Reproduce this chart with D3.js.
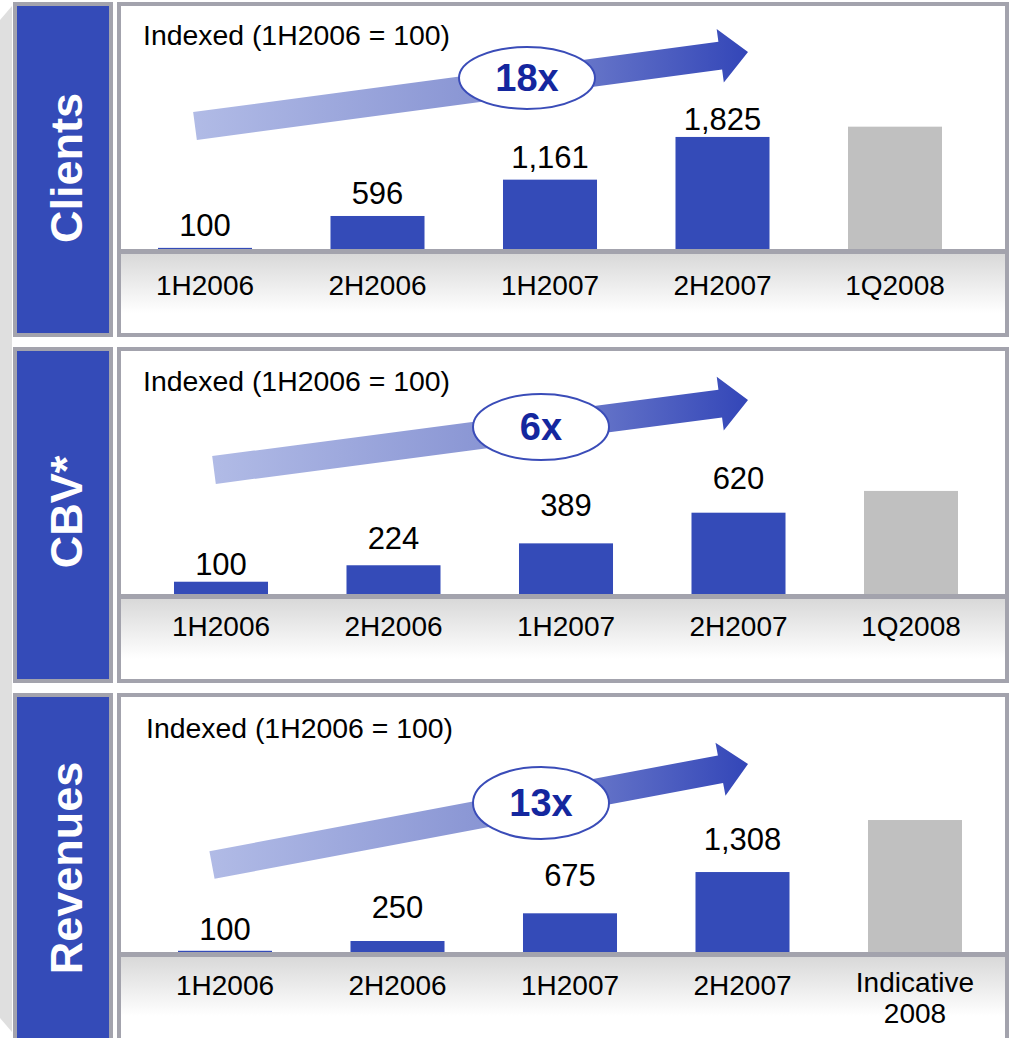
<!DOCTYPE html>
<meta charset="utf-8">
<html>
<body style="margin:0; background-color: white;">
<script src="https://d3js.org/d3.v7.min.js"></script>
<div id="chart"></div>
<script>

// ---- data ----
var panelNames = ["Clients", "CBV*", "Revenues"];
var subtitle = "Indexed (1H2006 = 100)";
var periods = ["1H2006", "2H2006", "1H2007", "2H2007", "1Q2008"];
var revenuePeriods = ["1H2006", "2H2006", "1H2007", "2H2007", "Indicative 2008"];
var clientsIndex = [100, 596, 1161, 1825, 1985];
var cbvIndex = [100, 224, 389, 620, 784];
var revenueIndex = [100, 250, 675, 1308, 2106];
var isForecast = [false, false, false, false, true];   // last bar grey, no label
var multiples = ["18x", "6x", "13x"];

var W = 1011, H = 1038;
var blue = "#344bb8", frame = "#a3a3ad", font = "Liberation Sans, Arial, sans-serif";

var svg = d3.select("#chart").append("svg")
    .attr("width", W).attr("height", H)
    .style("display", "block");

var defs = svg.append("defs");

var ag = defs.append("linearGradient").attr("id", "arrowGrad")
    .attr("x1", "0%").attr("x2", "100%").attr("y1", "0%").attr("y2", "0%");
ag.append("stop").attr("offset", "0%").attr("stop-color", "#b1bbe6");
ag.append("stop").attr("offset", "50%").attr("stop-color", "#8a96d4");
ag.append("stop").attr("offset", "100%").attr("stop-color", "#3346b8");

var bg = defs.append("linearGradient").attr("id", "bandGrad")
    .attr("x1", "0").attr("x2", "0").attr("y1", "0").attr("y2", "1");
bg.append("stop").attr("offset", "0%").attr("stop-color", "#d8d8d8");
bg.append("stop").attr("offset", "75%").attr("stop-color", "#ffffff");
bg.append("stop").attr("offset", "100%").attr("stop-color", "#ffffff");

// left shadow strip
svg.append("path")
    .attr("d", "M0,20 L12,6 L12,1032 L0,1018 Z")
    .attr("fill", "#dfdfdf");

// layout of the three panels
var panels = [
  { name: panelNames[0], cats: periods, vals: clientsIndex, mult: multiples[0],
    top: 4, bottom: 335, base: 250, shift: 0, dom: [67, 2000], domPx: 124.3,
    labelGap: [12, 12, 12, 7], catY: 295,
    arrow: {x0: 195, y0: 126, x1: 748, y1: 52}, ell: {cx: 527, cy: 78, ry: 31},
    subX: 143, subY: 45, textY: 168 },
  { name: panelNames[1], cats: periods, vals: cbvIndex, mult: multiples[1],
    top: 349, bottom: 681, base: 595, shift: 16, dom: [0, 800], domPx: 106.2,
    labelGap: [7, 16, 27, 24], catY: 636,
    arrow: {x0: 214, y0: 470, x1: 748, y1: 400}, ell: {cx: 541, cy: 427, ry: 33},
    subX: 143, subY: 391, textY: 512 },
  { name: panelNames[2], cats: revenuePeriods, vals: revenueIndex, mult: multiples[2],
    top: 695, bottom: 1060, base: 953, shift: 20, dom: [66, 2200], domPx: 139.1,
    labelGap: [11, 23, 27, 22], catY: 995,
    arrow: {x0: 212, y0: 865, x1: 748, y1: 764}, ell: {cx: 541, cy: 803, ry: 36},
    subX: 146, subY: 738, textY: 868 }
];

panels.forEach(function(p, pi) {
  var g = svg.append("g");

  // blue name box
  g.append("rect")
    .attr("x", 15).attr("y", p.top)
    .attr("width", 96).attr("height", p.bottom - p.top)
    .attr("fill", blue).attr("stroke", frame).attr("stroke-width", 4);
  g.append("text")
    .attr("transform", "translate(82," + p.textY + ") rotate(-90)")
    .attr("text-anchor", "middle")
    .attr("font-family", font).attr("font-weight", "bold")
    .attr("font-size", "45px").attr("fill", "white")
    .text(p.name);

  // chart frame
  g.append("rect")
    .attr("x", 119).attr("y", p.top)
    .attr("width", 888).attr("height", p.bottom - p.top)
    .attr("fill", "white").attr("stroke", frame).attr("stroke-width", 4);

  // grey band under the baseline
  g.append("rect")
    .attr("x", 121).attr("y", p.base + 3)
    .attr("width", 884).attr("height", Math.min(p.bottom, H) - p.base - 5)
    .attr("fill", "url(#bandGrad)");

  var x = d3.scaleBand().domain(p.cats)
    .range([118.75 + p.shift, 981.25 + p.shift])
    .paddingInner(0.455).paddingOuter(0.2275);
  var y = d3.scaleLinear().domain(p.dom).range([p.base, p.base - p.domPx]);

  var rows = p.cats.map(function(c, i) {
    return { cat: c, v: p.vals[i], fc: isForecast[i], gap: p.labelGap[i] };
  });

  g.selectAll(".bar").data(rows).enter().append("rect")
    .attr("x", function(d) { return x(d.cat); })
    .attr("y", function(d) { return y(d.v); })
    .attr("width", x.bandwidth())
    .attr("height", function(d) { return p.base - y(d.v); })
    .attr("fill", function(d) { return d.fc ? "#c0c0c0" : blue; });

  g.selectAll(".val").data(rows.filter(function(d) { return !d.fc; })).enter().append("text")
    .attr("x", function(d) { return x(d.cat) + x.bandwidth() / 2; })
    .attr("y", function(d) { return y(d.v) - d.gap; })
    .attr("text-anchor", "middle")
    .attr("font-family", font).attr("font-size", "31px").attr("fill", "black")
    .text(function(d) { return d3.format(",")(d.v); });

  // baseline
  g.append("line")
    .attr("x1", 121).attr("x2", 1005)
    .attr("y1", p.base + 1.5).attr("y2", p.base + 1.5)
    .attr("stroke", frame).attr("stroke-width", 5);

  // category labels (split on space for "Indicative 2008")
  g.selectAll(".cat").data(rows).enter().append("text")
    .attr("text-anchor", "middle")
    .attr("font-family", font).attr("font-size", "28px").attr("fill", "black")
    .each(function(d) {
      var parts = /^Indicative/.test(d.cat) ? d.cat.split(" ") : [d.cat];
      var cx = x(d.cat) + x.bandwidth() / 2;
      var t = d3.select(this);
      parts.forEach(function(s, k) {
        t.append("tspan").attr("x", cx)
          .attr("y", p.catY - (parts.length > 1 ? 3 : 0) + k * 31)
          .text(s);
      });
    });

  // subtitle
  g.append("text")
    .attr("x", p.subX).attr("y", p.subY)
    .attr("font-family", font).attr("font-size", "28.4px").attr("fill", "black")
    .text(subtitle);

  // growth arrow
  var a = p.arrow;
  var dx = a.x1 - a.x0, dy = a.y1 - a.y0, len = Math.sqrt(dx * dx + dy * dy);
  var ux = dx / len, uy = dy / len, nx = -uy, ny = ux;
  var half = 14, headHalf = 27, headLen = 28;
  function pt(along, across) {
    return [a.x0 + ux * along + nx * across, a.y0 + uy * along + ny * across];
  }
  var poly = [pt(0, -half), pt(len - headLen, -half), pt(len - headLen, -headHalf),
              pt(len, 0), pt(len - headLen, headHalf), pt(len - headLen, half), pt(0, half)];
  g.append("path")
    .attr("d", d3.line()(poly) + "Z")
    .attr("fill", "url(#arrowGrad)");

  g.append("ellipse")
    .attr("cx", p.ell.cx).attr("cy", p.ell.cy)
    .attr("rx", 68).attr("ry", p.ell.ry)
    .attr("fill", "white").attr("stroke", "#3a4cb8").attr("stroke-width", 2);
  g.append("text")
    .attr("x", p.ell.cx).attr("y", p.ell.cy + 13)
    .attr("text-anchor", "middle")
    .attr("font-family", font).attr("font-weight", "bold")
    .attr("font-size", "38px").attr("fill", "#14279e")
    .text(p.mult);
});

</script>
</body>
</html>
